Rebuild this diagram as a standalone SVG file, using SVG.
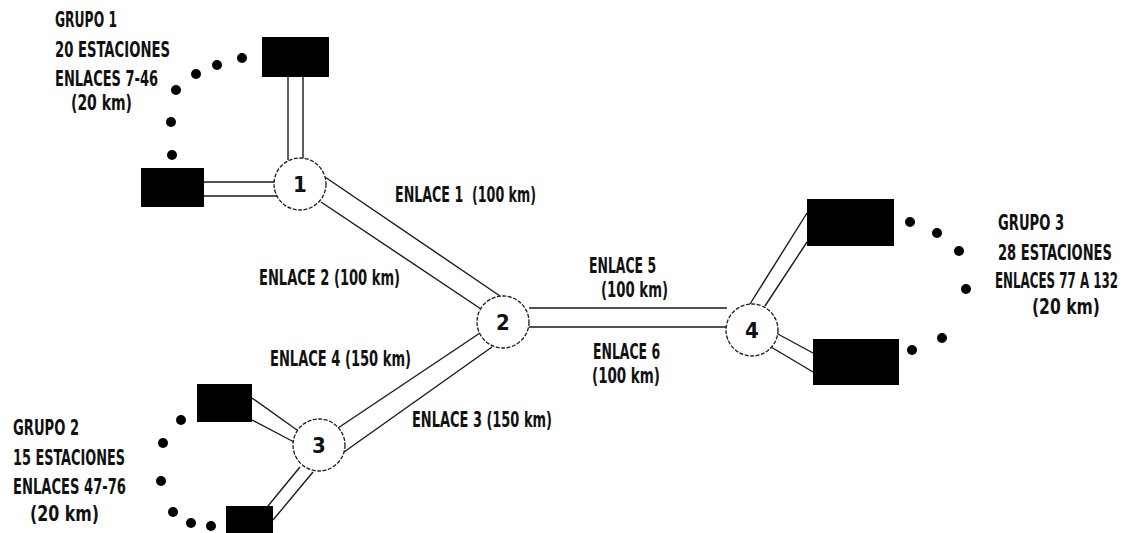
<svg xmlns="http://www.w3.org/2000/svg" width="1136" height="533" viewBox="0 0 1136 533">
<style>
.bg{fill:#ffffff}
.st{fill:#000000}
.ln{stroke:#1a1a1a;stroke-width:1.4;fill:none}
.nd{fill:#ffffff;stroke:#1a1a1a;stroke-width:1.3;stroke-dasharray:4 1.5}
.dot{fill:#000000}
text{font-family:"Liberation Sans Narrow","DejaVu Sans Condensed","Liberation Sans",sans-serif;font-weight:bold;font-size:21px;fill:#111111}
.num{font-size:22px;text-anchor:middle}
</style>
<rect class="bg" x="0" y="0" width="1136" height="533"/>
<g id="connectors">
  <line class="ln" x1="288" y1="77" x2="288" y2="160"/>
  <line class="ln" x1="303" y1="77" x2="303" y2="160"/>
  <line class="ln" x1="204" y1="182" x2="276" y2="182"/>
  <line class="ln" x1="204" y1="196" x2="277" y2="196"/>
  <line class="ln" x1="325" y1="177" x2="500" y2="296"/>
  <line class="ln" x1="321" y1="202" x2="481" y2="309"/>
  <line class="ln" x1="529" y1="308" x2="727" y2="308"/>
  <line class="ln" x1="529" y1="327" x2="727" y2="327"/>
  <line class="ln" x1="480" y1="333" x2="338" y2="428"/>
  <line class="ln" x1="492" y1="347" x2="344" y2="452"/>
  <line class="ln" x1="252" y1="398" x2="297" y2="430"/>
  <line class="ln" x1="252" y1="420" x2="294" y2="442"/>
  <line class="ln" x1="300" y1="467" x2="268" y2="506"/>
  <line class="ln" x1="313" y1="472" x2="273" y2="520"/>
  <line class="ln" x1="750" y1="304" x2="807" y2="213"/>
  <line class="ln" x1="765" y1="306" x2="807" y2="242"/>
  <line class="ln" x1="776" y1="333" x2="813" y2="353"/>
  <line class="ln" x1="771" y1="347" x2="813" y2="372"/>
</g>
<g id="node1">
  <circle class="nd" cx="300" cy="184" r="26"/>
  <text class="num" x="300" y="192">1</text>
</g>
<g id="node2">
  <circle class="nd" cx="503" cy="322" r="26"/>
  <text class="num" x="503" y="330">2</text>
</g>
<g id="node3">
  <circle class="nd" cx="319" cy="445" r="26"/>
  <text class="num" x="319" y="453">3</text>
</g>
<g id="node4">
  <circle class="nd" cx="752" cy="330" r="26"/>
  <text class="num" x="752" y="338">4</text>
</g>
<g id="grupo1">
  <rect class="st" x="262" y="37" width="67" height="40"/>
  <rect class="st" x="141" y="168" width="63" height="39"/>
  <circle class="dot" cx="242" cy="58" r="5"/>
  <circle class="dot" cx="217" cy="65" r="5"/>
  <circle class="dot" cx="196" cy="74" r="5"/>
  <circle class="dot" cx="176" cy="90" r="5"/>
  <circle class="dot" cx="171" cy="122" r="5"/>
  <circle class="dot" cx="172" cy="155" r="5"/>
  <text transform="translate(55 27) scale(0.72 1)" textLength="86.1" lengthAdjust="spacingAndGlyphs">GRUPO 1</text>
  <text transform="translate(55 57) scale(0.72 1)" textLength="159.7" lengthAdjust="spacingAndGlyphs">20 ESTACIONES</text>
  <text transform="translate(55 86) scale(0.72 1)" textLength="143.1" lengthAdjust="spacingAndGlyphs">ENLACES 7-46</text>
  <text transform="translate(71 110) scale(0.72 1)" textLength="84.7" lengthAdjust="spacingAndGlyphs">(20 km)</text>
</g>
<g id="grupo2">
  <rect class="st" x="197" y="384" width="55" height="38"/>
  <rect class="st" x="226" y="506" width="47" height="30"/>
  <circle class="dot" cx="181" cy="420" r="5"/>
  <circle class="dot" cx="163" cy="443" r="5"/>
  <circle class="dot" cx="161" cy="481" r="5"/>
  <circle class="dot" cx="173" cy="512" r="5"/>
  <circle class="dot" cx="191" cy="523" r="5"/>
  <circle class="dot" cx="211" cy="526" r="5"/>
  <text transform="translate(13 435) scale(0.72 1)" textLength="91.7" lengthAdjust="spacingAndGlyphs">GRUPO 2</text>
  <text transform="translate(13 465) scale(0.72 1)" textLength="155.6" lengthAdjust="spacingAndGlyphs">15 ESTACIONES</text>
  <text transform="translate(13 494) scale(0.72 1)" textLength="156.9" lengthAdjust="spacingAndGlyphs">ENLACES 47-76</text>
  <text transform="translate(30 521) scale(0.72 1)" textLength="95.8" lengthAdjust="spacingAndGlyphs">(20 km)</text>
</g>
<g id="grupo3">
  <rect class="st" x="807" y="199" width="87" height="47"/>
  <rect class="st" x="813" y="339" width="86" height="46"/>
  <circle class="dot" cx="910" cy="222" r="5"/>
  <circle class="dot" cx="937" cy="233" r="5"/>
  <circle class="dot" cx="959" cy="251" r="5"/>
  <circle class="dot" cx="966" cy="289" r="5"/>
  <circle class="dot" cx="942" cy="338" r="5"/>
  <circle class="dot" cx="912" cy="350" r="5"/>
  <text transform="translate(998 230) scale(0.72 1)" textLength="91.7" lengthAdjust="spacingAndGlyphs">GRUPO 3</text>
  <text transform="translate(998 260) scale(0.72 1)" textLength="158.3" lengthAdjust="spacingAndGlyphs">28 ESTACIONES</text>
  <text transform="translate(995 288) scale(0.72 1)" textLength="170.8" lengthAdjust="spacingAndGlyphs">ENLACES 77 A 132</text>
  <text transform="translate(1032 314) scale(0.72 1)" textLength="94.4" lengthAdjust="spacingAndGlyphs">(20 km)</text>
</g>
<g id="labels">
  <text transform="translate(395 202) scale(0.72 1)" textLength="195.8" lengthAdjust="spacingAndGlyphs" xml:space="preserve">ENLACE 1  (100 km)</text>
  <text transform="translate(259 285) scale(0.72 1)" textLength="195.8" lengthAdjust="spacingAndGlyphs">ENLACE 2 (100 km)</text>
  <text transform="translate(589 273) scale(0.72 1)" textLength="93.1" lengthAdjust="spacingAndGlyphs">ENLACE 5</text>
  <text transform="translate(601 297) scale(0.72 1)" textLength="93.1" lengthAdjust="spacingAndGlyphs">(100 km)</text>
  <text transform="translate(593 359) scale(0.72 1)" textLength="93.1" lengthAdjust="spacingAndGlyphs">ENLACE 6</text>
  <text transform="translate(592 383) scale(0.72 1)" textLength="94.4" lengthAdjust="spacingAndGlyphs">(100 km)</text>
  <text transform="translate(270 366) scale(0.72 1)" textLength="195.8" lengthAdjust="spacingAndGlyphs">ENLACE 4 (150 km)</text>
  <text transform="translate(412 427) scale(0.72 1)" textLength="194.4" lengthAdjust="spacingAndGlyphs">ENLACE 3 (150 km)</text>
</g>
</svg>
